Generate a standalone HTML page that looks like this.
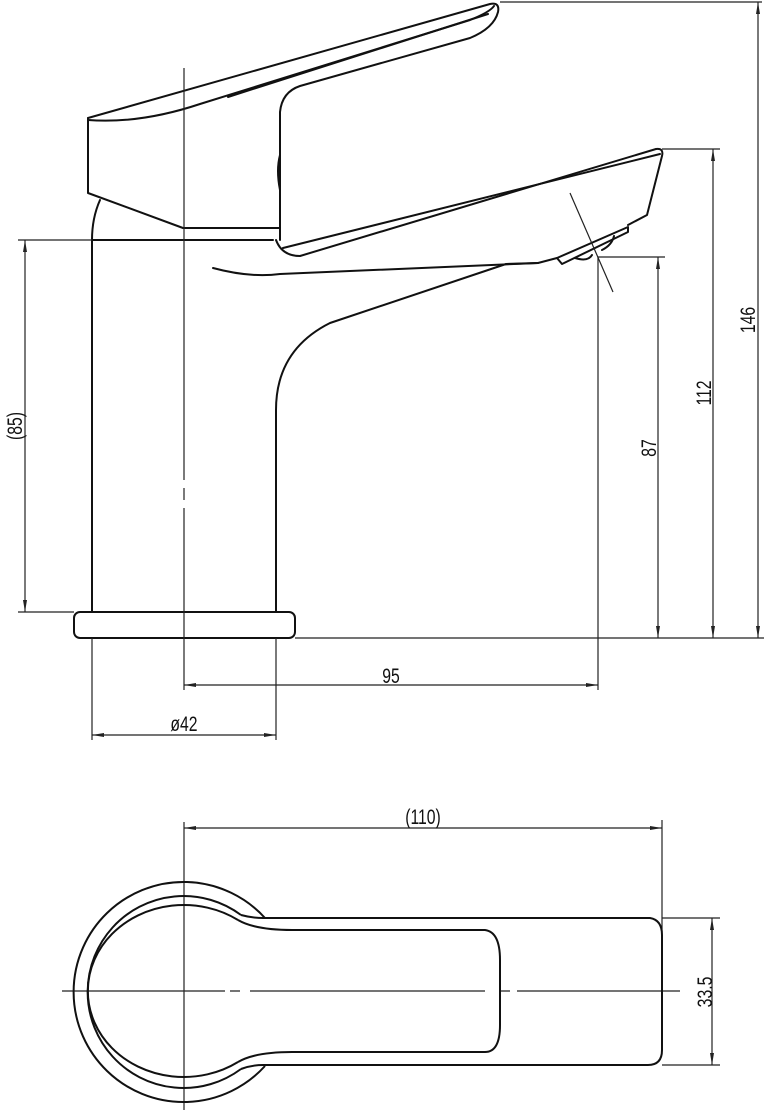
<!DOCTYPE html>
<html><head><meta charset="utf-8"><style>
html,body{margin:0;padding:0;background:#fff;}
svg{display:block;}
text{font-family:"Liberation Sans",sans-serif;font-size:21px;fill:#111;}
</style></head><body>
<svg width="766" height="1116" viewBox="0 0 766 1116" xmlns="http://www.w3.org/2000/svg">
<defs>
<marker id="a" viewBox="0 0 12 6" refX="12" refY="3" markerWidth="12" markerHeight="6" orient="auto-start-reverse" markerUnits="userSpaceOnUse">
<path d="M0,1 L12,3 L0,5 Z" fill="#222"/></marker>
</defs>
<g fill="none" stroke="#111" stroke-width="2" stroke-linejoin="round" stroke-linecap="round">
<path d="M88,118 L490,4 Q500,2 498,12 Q494,28 470,38 L300,86 Q282,92 280,112 L280,240"/>
<path d="M88,120 Q140,124 200,104 L470,20 Q490,12 494,6"/>
<path d="M228,97 L488,14"/>
<path d="M88,118 L88,193 L183,228 L280,228"/>
<path d="M280,155 Q276,170 280,190"/>
<path d="M100,200 Q92,218 92,240 L92,612"/>
<path d="M92,240 L273,240"/>
<path d="M276,612 L276,410 Q276,350 330,323 L506,264 L538,263"/>
<path d="M276,240 Q282,256 300,256 L656,149 Q664,148 662,156 L647,215 L628,225"/>
<path d="M283,248 L660,154"/>
<path d="M213,268 Q250,278 280,274 L538,263 L557,258"/>
<path d="M557,258 L628,227 L628,232 L562,264 Z"/>
<path d="M575,258 Q588,262 592,255 M602,250 Q612,245 614,236"/>
<rect x="74" y="612" width="221" height="26" rx="6"/>
</g>
<g fill="none" stroke="#222" stroke-width="1.2">
<path d="M184,68 L184,480 M184,488 L184,500 M184,508 L184,690"/>
<line x1="570" y1="193" x2="613" y2="292"/>
<line x1="18" y1="240" x2="92" y2="240"/>
<line x1="18" y1="612" x2="74" y2="612"/>
<line x1="295" y1="638" x2="764" y2="638"/>
<line x1="500" y1="2" x2="762" y2="2"/>
<line x1="662" y1="149" x2="720" y2="149"/>
<line x1="598" y1="257" x2="665" y2="257"/>
<line x1="598" y1="257" x2="598" y2="690"/>
<line x1="92" y1="638" x2="92" y2="740"/>
<line x1="276" y1="638" x2="276" y2="740"/>
<line x1="25" y1="240" x2="25" y2="612" marker-start="url(#a)" marker-end="url(#a)"/>
<line x1="658" y1="257" x2="658" y2="638" marker-start="url(#a)" marker-end="url(#a)"/>
<line x1="713" y1="149" x2="713" y2="638" marker-start="url(#a)" marker-end="url(#a)"/>
<line x1="758" y1="2" x2="758" y2="638" marker-start="url(#a)" marker-end="url(#a)"/>
<line x1="184" y1="685" x2="598" y2="685" marker-start="url(#a)" marker-end="url(#a)"/>
<line x1="92" y1="735" x2="276" y2="735" marker-start="url(#a)" marker-end="url(#a)"/>
<line x1="184" y1="828" x2="662" y2="828" marker-start="url(#a)" marker-end="url(#a)"/>
<line x1="662" y1="820" x2="662" y2="991"/>
<line x1="662" y1="918" x2="720" y2="918"/>
<line x1="662" y1="1065" x2="720" y2="1065"/>
<line x1="712" y1="918" x2="712" y2="1065" marker-start="url(#a)" marker-end="url(#a)"/>
<path d="M184,822 L184,1110"/>
<path d="M62,991 L225,991 M230,991 L240,991 M250,991 L485,991 M500,991 L510,991 M517,991 L680,991"/>
</g>
<g fill="none" stroke="#111" stroke-width="2" stroke-linejoin="round">
<path d="M265,918 A110,110 0 1 0 265,1066"/>
<path d="M241,915 Q252,918 263,918 L650,918 Q662,920 662,935 L662,1050 Q662,1065 648,1065 L263,1065 Q252,1065 241,1069"/>
<path d="M241,915 A96,96 0 1 0 241,1069"/>
<path d="M238,920 Q255,930 292,930 L485,930 Q500,932 500,960 L500,1025 Q500,1052 485,1052 L292,1052 Q255,1052 238,1062"/>
<path d="M238,920 A96,86 0 1 0 238,1062"/>
</g>
<g>
<text transform="translate(22,426) rotate(-90) scale(0.75,1)" text-anchor="middle">(85)</text>
<text transform="translate(656,448) rotate(-90) scale(0.75,1)" text-anchor="middle">87</text>
<text transform="translate(711,393) rotate(-90) scale(0.75,1)" text-anchor="middle">112</text>
<text transform="translate(755,320) rotate(-90) scale(0.75,1)" text-anchor="middle">146</text>
<text transform="translate(391,683) scale(0.75,1)" text-anchor="middle">95</text>
<text transform="translate(184,731) scale(0.75,1)" text-anchor="middle">ø42</text>
<text transform="translate(423,824) scale(0.75,1)" text-anchor="middle">(110)</text>
<text transform="translate(712,992) rotate(-90) scale(0.75,1)" text-anchor="middle">33.5</text>
</g>
</svg>
</body></html>
